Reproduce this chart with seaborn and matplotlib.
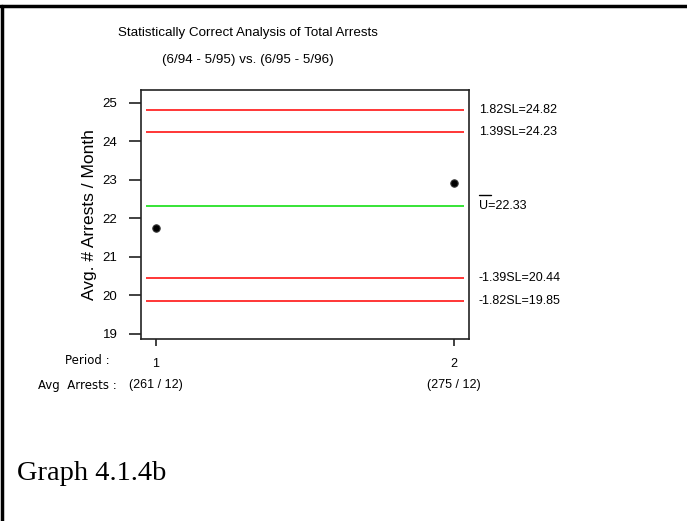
import numpy as np
import matplotlib
matplotlib.use("Agg")
import matplotlib.pyplot as plt
import matplotlib.transforms as mtransforms
from matplotlib.lines import Line2D
import pandas as pd
import seaborn as sns

# datos
periodos = [1, 2]
arrestos = [261, 275]
meses = [12, 12]
etiquetas_periodo = ["1", "2"]
etiquetas_arrestos = ["(261 / 12)", "(275 / 12)"]

limites = [24.82, 24.23, 20.44, 19.85]
etiquetas_limites = ["1.82SL=24.82", "1.39SL=24.23", "-1.39SL=20.44", "-1.82SL=19.85"]
centro = 22.33
etiqueta_centro = "U=22.33"

df = pd.DataFrame({"Periodo": periodos,
                   "Promedio": np.array(arrestos) / np.array(meses)})

sns.set_style("white")
plt.rcParams['font.family'] = ['Liberation Sans', 'DejaVu Sans']
plt.rcParams['text.color'] = 'black'
plt.rcParams['axes.labelcolor'] = 'black'
plt.rcParams['xtick.color'] = 'black'
plt.rcParams['ytick.color'] = 'black'

fig = plt.figure(figsize=(6.87, 5.21), dpi=100)
ax = fig.add_axes([141/687, 1-339/521, 328/687, 249/521])

for v in limites:
    ax.hlines(v, 0.967, 2.033, color='red', lw=1.1)
ax.hlines(centro, 0.967, 2.033, color='#00dd00', lw=1.1)

sns.scatterplot(data=df, x="Periodo", y="Promedio", ax=ax, color='black',
                s=28, marker='o', edgecolor='#333333', linewidth=0.8, zorder=5)

ax.set_xlim(0.951, 2.05)
ax.set_ylim(18.87, 25.33)
ax.set_yticks(range(19, 26))
ax.set_xticks(periodos)
ax.set_xticklabels(etiquetas_periodo)
ax.tick_params(axis='y', direction='out', length=9, width=1.3, pad=8,
               labelsize=9.5, left=True, color='#333333')
ax.tick_params(axis='x', direction='out', length=5, width=1.3, pad=9,
               labelsize=9, bottom=True, color='#333333')
for s in ax.spines.values():
    s.set_color('#222222')
    s.set_linewidth(1.2)
ax.set_xlabel("")
ax.set_ylabel("Avg. # Arrests / Month", fontsize=12.5, labelpad=4)

# etiquetas de limites a la derecha
tr = mtransforms.blended_transform_factory(ax.transAxes, ax.transData)
for v, t in zip(limites, etiquetas_limites):
    ax.text(1.03, v, t, transform=tr, ha='left', va='center', fontsize=9)
ax.text(1.03, centro, etiqueta_centro, transform=tr, ha='left', va='center', fontsize=9)
barra = mtransforms.offset_copy(tr, fig=fig, x=0, y=10.5, units='dots')
ax.plot([1.03, 1.066], [centro, centro], transform=barra, color='black', lw=1, clip_on=False)

# fila inferior de etiquetas
trx = mtransforms.blended_transform_factory(ax.transData, fig.transFigure)
for p, t in zip(periodos, etiquetas_arrestos):
    fig.text(p, 1-385/521, t, transform=trx, ha='center', va='center', fontsize=9)
fig.text(110/687, 1-361/521, "Period :", ha='right', va='center', fontsize=8.5,
         family='DejaVu Sans')
fig.text(117/687, 1-385/521, "Avg  Arrests :", ha='right', va='center', fontsize=8.5,
         family='DejaVu Sans')

# titulo
fig.text(248/687, 1-33/521, "Statistically Correct Analysis of Total Arrests",
         ha='center', va='center', fontsize=9.6)
fig.text(248/687, 1-60/521, "(6/94 - 5/95) vs. (6/95 - 5/96)",
         ha='center', va='center', fontsize=9.6)

fig.text(17/687, 1-473/521, "Graph 4.1.4b", ha='left', va='center', fontsize=20.5,
         family='Liberation Serif')

# marco de la pagina
fig.add_artist(Line2D([0, 1], [1-6/521, 1-6/521], transform=fig.transFigure, color='black', lw=2.5))
fig.add_artist(Line2D([2/687, 2/687], [0, 1-6/521], transform=fig.transFigure, color='black', lw=2.5))

fig.savefig("out.png", dpi=100)
